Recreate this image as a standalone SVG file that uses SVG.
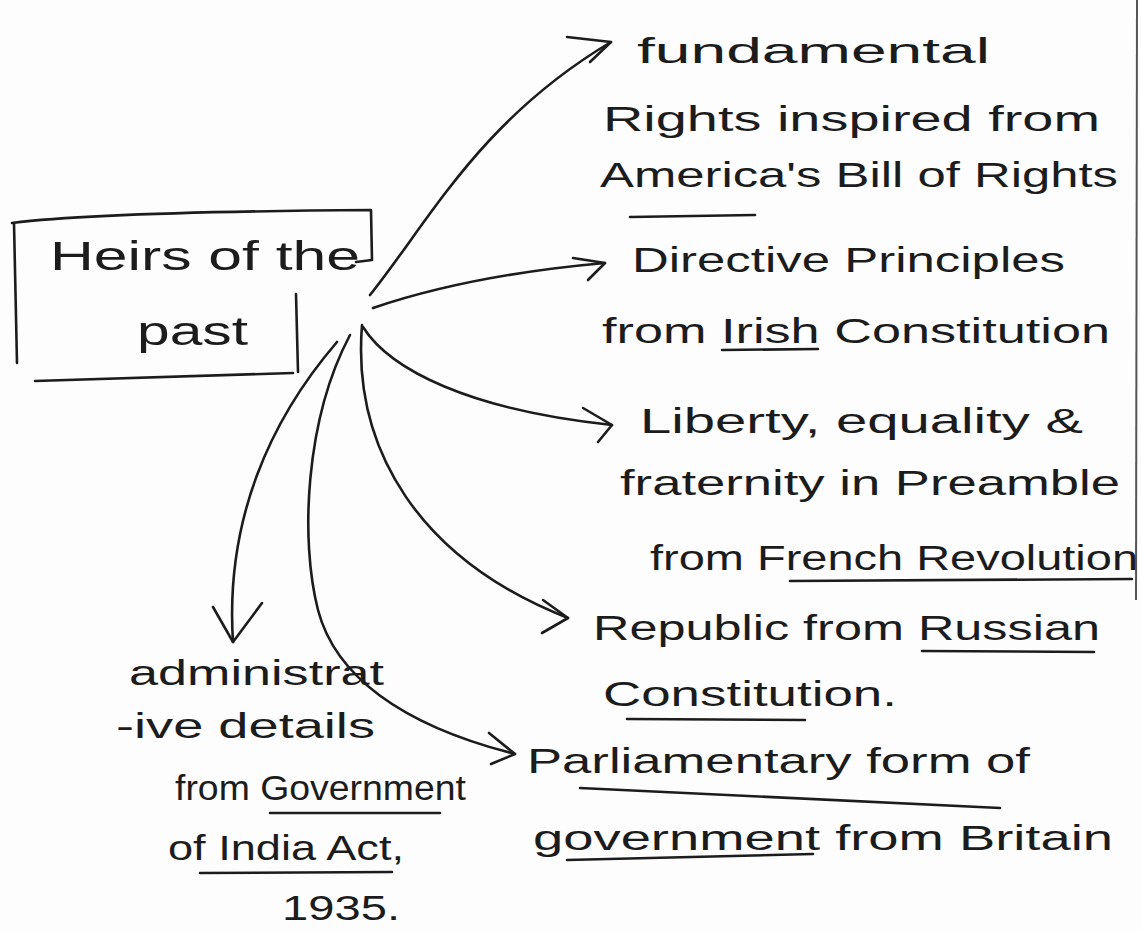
<svg xmlns="http://www.w3.org/2000/svg" width="1141" height="931" viewBox="0 0 1141 931">
<style>
.ink{fill:none;stroke:#1c1c1c;stroke-width:2.6;stroke-linecap:round;stroke-linejoin:round}
.t{font-family:"Liberation Sans","Noto Sans",Arial,sans-serif;font-size:35px;fill:#1c1c1c}
.big{font-size:40px}
.edge{fill:none;stroke:#555;stroke-width:2}
</style>
<rect width="1141" height="931" fill="#fdfdfd"/>
<path class="edge" d="M1137,0 L1136,600"/>

<g id="root">
  <path class="ink" d="M12,223 Q100,212 371,210 L372,260 L356,262"/>
  <path class="ink" d="M14,223 L17,363"/>
  <path class="ink" d="M35,381 L293,373"/>
  <path class="ink" d="M296,294 L298,372"/>
  <text class="t big" x="50" y="270" textLength="310" lengthAdjust="spacingAndGlyphs">Heirs of the</text>
  <text class="t big" x="137" y="345" textLength="111" lengthAdjust="spacingAndGlyphs">past</text>
</g>

<g id="connectors">
  <path class="ink" d="M370,295 C430,220 480,120 611,42"/>
  <polyline class="ink" points="567,37 611,42 590,62"/>
  <path class="ink" d="M373,308 Q470,275 605,263"/>
  <polyline class="ink" points="573,258 605,263 588,280"/>
  <path class="ink" d="M363,327 C390,370 470,410 612,425"/>
  <polyline class="ink" points="583,408 612,425 598,442"/>
  <path class="ink" d="M362,325 C352,450 420,560 568,618"/>
  <polyline class="ink" points="543,600 568,618 542,633"/>
  <path class="ink" d="M350,335 C305,420 300,540 318,610 C335,675 400,725 515,754"/>
  <polyline class="ink" points="489,733 515,754 491,764"/>
  <path class="ink" d="M337,342 C270,420 225,520 233,642"/>
  <polyline class="ink" points="213,607 233,642 262,603"/>
</g>

<g id="fundamental-rights">
  <text class="t" x="637" y="63" textLength="353" lengthAdjust="spacingAndGlyphs">fundamental</text>
  <text class="t" x="603" y="131" textLength="497" lengthAdjust="spacingAndGlyphs">Rights inspired from</text>
  <text class="t" x="600" y="187" textLength="518" lengthAdjust="spacingAndGlyphs">America's Bill of Rights</text>
  <path class="ink" d="M630,217 L755,215"/>
</g>

<g id="directive-principles">
  <text class="t" x="632" y="272" textLength="433" lengthAdjust="spacingAndGlyphs">Directive Principles</text>
  <text class="t" x="602" y="343" textLength="508" lengthAdjust="spacingAndGlyphs">from Irish Constitution</text>
  <path class="ink" d="M722,350 L818,349"/>
</g>

<g id="liberty-equality">
  <text class="t" x="640" y="433" textLength="443" lengthAdjust="spacingAndGlyphs">Liberty, equality &amp;</text>
  <text class="t" x="620" y="495" textLength="500" lengthAdjust="spacingAndGlyphs">fraternity in Preamble</text>
  <text class="t" x="650" y="570" textLength="488" lengthAdjust="spacingAndGlyphs">from French Revolution</text>
  <path class="ink" d="M790,581 L1132,579"/>
</g>

<g id="republic">
  <text class="t" x="593" y="640" textLength="507" lengthAdjust="spacingAndGlyphs">Republic from Russian</text>
  <path class="ink" d="M922,651 L1094,652"/>
  <text class="t" x="603" y="706" textLength="294" lengthAdjust="spacingAndGlyphs">Constitution.</text>
  <path class="ink" d="M627,719 L805,720"/>
</g>

<g id="parliamentary">
  <text class="t" x="527" y="773" textLength="503" lengthAdjust="spacingAndGlyphs">Parliamentary form of</text>
  <path class="ink" d="M580,788 L1000,808"/>
  <text class="t" x="533" y="850" textLength="580" lengthAdjust="spacingAndGlyphs">government from Britain</text>
  <path class="ink" d="M567,860 L813,854"/>
</g>

<g id="administrative">
  <text class="t" x="129" y="685" textLength="255" lengthAdjust="spacingAndGlyphs">administrat</text>
  <text class="t" x="116" y="738" textLength="259" lengthAdjust="spacingAndGlyphs">-ive details</text>
  <text class="t" x="175" y="800" textLength="291" lengthAdjust="spacingAndGlyphs">from Government</text>
  <path class="ink" d="M270,813 L440,813"/>
  <text class="t" x="168" y="860" textLength="236" lengthAdjust="spacingAndGlyphs">of India Act,</text>
  <path class="ink" d="M200,873 L392,872"/>
  <text class="t" x="282" y="920" textLength="118" lengthAdjust="spacingAndGlyphs">1935.</text>
</g>
</svg>
